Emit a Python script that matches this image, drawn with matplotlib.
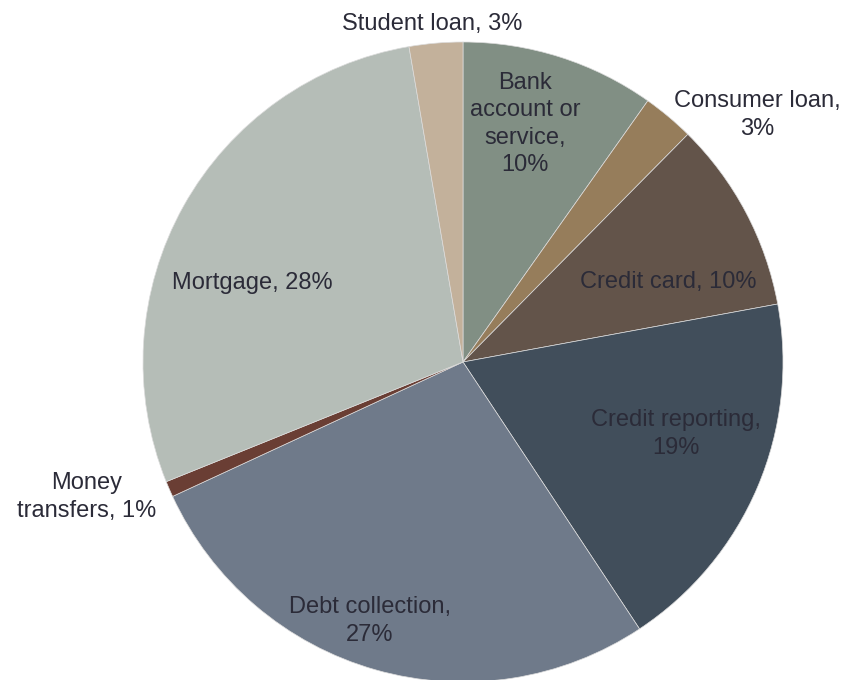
import matplotlib.pyplot as plt

# complaint share by product
products = ['Bank\naccount or\nservice', 'Consumer loan', 'Credit card', 'Credit reporting',
            'Debt collection', 'Money\ntransfers', 'Mortgage', 'Student loan']
shares = [9.8, 2.6, 9.7, 18.6, 27.4, 0.8, 28.4, 2.7]
colors = ['#818f84', '#967d5b', '#63544a', '#414e5b',
          '#6f7a8a', '#6a3e34', '#b5bdb7', '#c3b19b']

# label layout in pixel coords (x, y from top), and how the percent joins the name
label_pos = [(525, 124), (757, 115), (668, 282), (676, 434),
             (370, 621), (87, 497), (252, 283), (432, 24)]
joiner = [',\n', ',\n', ', ', ',\n', ',\n', ', ', ', ', ', ']

W, H = 843, 680
fig = plt.figure(figsize=(W / 100, H / 100), dpi=100)
ax = fig.add_axes([0, 0, 1, 1])

ax.pie(shares, colors=colors, startangle=90, counterclock=False,
       center=(463, H - 362), radius=320, frame=True,
       wedgeprops=dict(edgecolor='#dcdcdc', linewidth=0.5))
ax.set_xlim(0, W)
ax.set_ylim(0, H)
ax.set_aspect('equal')
ax.axis('off')

for name, val, (x, y), j in zip(products, shares, label_pos, joiner):
    ax.text(x, H - y, f'{name}{j}{round(val)}%', ha='center', va='center',
            fontsize=17, color='#2b2b38', family='Liberation Sans',
            linespacing=1.3)

fig.savefig('out.png', dpi=100)
